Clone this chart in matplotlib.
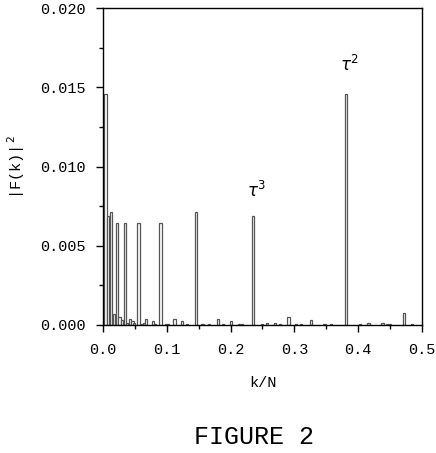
import matplotlib
matplotlib.use("Agg")
import matplotlib.pyplot as plt
from matplotlib.ticker import MultipleLocator

# peak positions (k/N) and power |F(k)|^2
k_over_n = [0.0039, 0.0083, 0.0128, 0.0172, 0.0216, 0.0259, 0.0302, 0.0342,
            0.0380, 0.0426, 0.0465, 0.0490, 0.0556, 0.0596, 0.0646, 0.0680,
            0.0780, 0.0820, 0.0901, 0.0990, 0.1020, 0.1120, 0.1240, 0.1320,
            0.1460, 0.1560, 0.1660, 0.1800, 0.1880, 0.2010, 0.2130, 0.2180,
            0.2350, 0.2490, 0.2570, 0.2700, 0.2780, 0.2910, 0.3020, 0.3100,
            0.3260, 0.3470, 0.3570, 0.3810, 0.4030, 0.4160, 0.4380, 0.4450,
            0.4500, 0.4720, 0.4840]
power = [0.01457, 0.00690, 0.00713, 0.00070, 0.00645, 0.00050, 0.00030, 0.00645,
         0.00010, 0.00040, 0.00025, 0.00010, 0.00645, 0.00005, 0.00010, 0.00040,
         0.00025, 0.00005, 0.00645, 0.00008, 0.00005, 0.00040, 0.00025, 0.00005,
         0.00715, 0.00005, 0.00005, 0.00040, 0.00005, 0.00027, 0.00005, 0.00005,
         0.00690, 0.00005, 0.00010, 0.00013, 0.00005, 0.00050, 0.00004, 0.00004,
         0.00030, 0.00008, 0.00004, 0.01457, 0.00004, 0.00010, 0.00013, 0.00004,
         0.00004, 0.00073, 0.00004]

labels = [r"$\tau^3$", r"$\tau^2$"]
label_x = [0.241, 0.387]
label_y = [0.0081, 0.0160]

plt.rcParams["font.family"] = ["Liberation Mono", "DejaVu Sans Mono"]
plt.rcParams["mathtext.fontset"] = "dejavusans"

fig = plt.figure(figsize=(4.36, 4.53), dpi=100)
ax = fig.add_axes([0.236, 0.2826, 0.732, 0.6997])

ax.bar(k_over_n, power, width=0.0036, facecolor="white",
       edgecolor="#555555", linewidth=0.9)

for txt, x, y in zip(labels, label_x, label_y):
    ax.text(x, y, txt, fontsize=12, ha="center", va="baseline")

ax.set_xlim(0, 0.5)
ax.set_ylim(0, 0.02)
ax.xaxis.set_major_locator(MultipleLocator(0.1))
ax.xaxis.set_minor_locator(MultipleLocator(0.05))
ax.yaxis.set_major_locator(MultipleLocator(0.005))
ax.yaxis.set_minor_locator(MultipleLocator(0.0025))
ax.xaxis.set_major_formatter(plt.FuncFormatter(lambda v, p: f"{v:.1f}"))
ax.yaxis.set_major_formatter(plt.FuncFormatter(lambda v, p: f"{v:.3f}"))
ax.tick_params(which="major", direction="out", length=5, width=1, labelsize=11)
ax.tick_params(axis="y", which="major", pad=7)
ax.tick_params(axis="x", which="major", pad=8)
ax.tick_params(which="minor", direction="out", length=3, width=1)
for s in ax.spines.values():
    s.set_linewidth(1)

ax.set_xlabel("k/N", fontsize=11, labelpad=14)
ax.set_ylabel(r"|F(k)|$^{\,2}$", fontsize=11, labelpad=10)

fig.text(0.582, 0.035, "FIGURE 2", fontsize=18, ha="center", va="center")

fig.savefig("out.png", dpi=100)
